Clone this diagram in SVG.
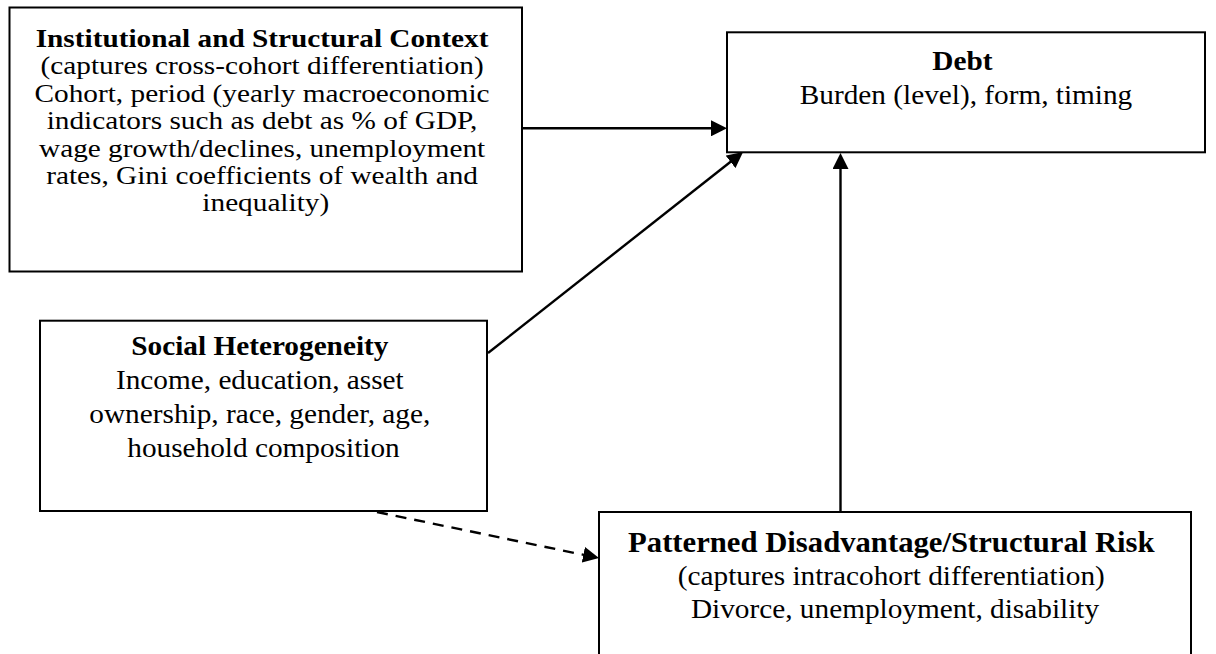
<svg xmlns="http://www.w3.org/2000/svg" width="1216" height="654" viewBox="0 0 1216 654">
  <style>
    .box { fill: #ffffff; stroke: #000000; stroke-width: 2; }
    .t { font-family: "Liberation Serif", "Times New Roman", serif; font-size: 27.5px; fill: #000000; text-anchor: middle; }
    .t1 { font-size: 26px; }
    .b { font-weight: bold; }
    .conn { stroke: #000000; stroke-width: 2.4; fill: none; }
    .dash { stroke-dasharray: 11 8; }
  </style>
  <defs>
    <marker id="arrow" markerUnits="userSpaceOnUse" markerWidth="16" markerHeight="16" refX="7" refY="8" orient="auto">
      <path d="M0,0 L16,8 L0,16 Z" fill="#000000"/>
    </marker>
  </defs>
  <rect width="1216" height="654" fill="#ffffff"/>

  <g id="connectors">
    <line class="conn" x1="522" y1="128.3" x2="718" y2="128.3" marker-end="url(#arrow)"/>
    <line class="conn" x1="488" y1="353" x2="736" y2="157.5" marker-end="url(#arrow)"/>
    <line class="conn" x1="840.5" y1="512" x2="840.5" y2="162" marker-end="url(#arrow)"/>
    <line class="conn dash" x1="377" y1="512" x2="590.2" y2="556.2" marker-end="url(#arrow)"/>
  </g>

  <g id="institutional">
    <rect class="box" x="9.5" y="7.5" width="512.5" height="264"/>
    <text class="t t1" transform="translate(265.75,0) scale(1.126,1)">
      <tspan class="b" x="0" y="47">Institutional and Structural Context</tspan>
      <tspan x="0" y="74.5">(captures cross-cohort differentiation)</tspan>
      <tspan x="0" y="102">Cohort, period (yearly macroeconomic</tspan>
      <tspan x="0" y="129.5">indicators such as debt as % of GDP,</tspan>
      <tspan x="0" y="157">wage growth/declines, unemployment</tspan>
      <tspan x="0" y="184">rates, Gini coefficients of wealth and</tspan>
      <tspan x="0" y="211.5">inequality)</tspan>
    </text>
  </g>

  <g id="debt">
    <rect class="box" x="727" y="32.3" width="478" height="120"/>
    <text class="t" transform="translate(966,0) scale(1.065,1)">
      <tspan class="b" x="0" y="70">Debt</tspan>
      <tspan x="0" y="104">Burden (level), form, timing</tspan>
    </text>
  </g>

  <g id="social">
    <rect class="box" x="40" y="320.7" width="447" height="190.3"/>
    <text class="t" transform="translate(263.5,0) scale(1.065,1)">
      <tspan class="b" x="0" y="355">Social Heterogeneity</tspan>
      <tspan x="0" y="389">Income, education, asset</tspan>
      <tspan x="0" y="423">ownership, race, gender, age,</tspan>
      <tspan x="0" y="457">household composition</tspan>
    </text>
  </g>

  <g id="patterned">
    <rect class="box" x="599" y="512" width="592" height="170"/>
    <text class="t" transform="translate(895,0) scale(1.065,1)">
      <tspan class="b" x="0" y="552" style="font-size:28.8px">Patterned Disadvantage/Structural Risk</tspan>
      <tspan x="0" y="585">(captures intracohort differentiation)</tspan>
      <tspan x="0" y="618">Divorce, unemployment, disability</tspan>
    </text>
  </g>
</svg>
